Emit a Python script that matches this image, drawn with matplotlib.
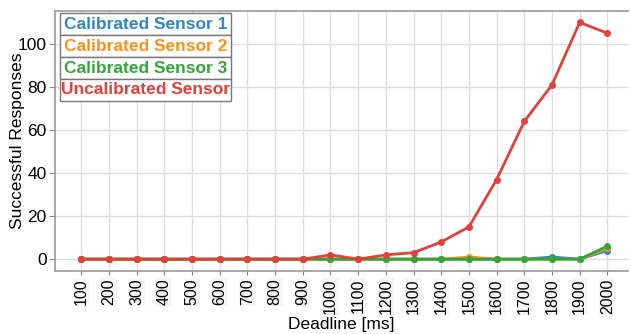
import matplotlib
matplotlib.use("Agg")
import matplotlib.pyplot as plt
import numpy as np

plt.rcParams['font.family'] = ['Liberation Sans', 'DejaVu Sans']

# deadlines in ms
deadlines = [100, 200, 300, 400, 500, 600, 700, 800, 900, 1000,
             1100, 1200, 1300, 1400, 1500, 1600, 1700, 1800, 1900, 2000]

# successful responses per deadline
calibrated_1 = [0, 0, 0, 0, 0, 0, 0, 0, 0, 0, 0, 0, 0, 0, 0, 0, 0, 1, 0, 4]
calibrated_2 = [0, 0, 0, 0, 0, 0, 0, 0, 0, 0, 0, 0, 0, 0, 1, 0, 0, 0, 0, 5]
calibrated_3 = [0, 0, 0, 0, 0, 0, 0, 0, 0, 0, 0, 0, 0, 0, 0, 0, 0, 0, 0, 6]
uncalibrated = [0, 0, 0, 0, 0, 0, 0, 0, 0, 2, 0, 2, 3, 8, 15, 37, 64, 81, 110, 105]

labels = ["Calibrated Sensor 1", "Calibrated Sensor 2",
          "Calibrated Sensor 3", "Uncalibrated Sensor"]
colors = ["#2f86c0", "#f8921f", "#33a53a", "#e0413a"]
series = [calibrated_1, calibrated_2, calibrated_3, uncalibrated]

fig = plt.figure(figsize=(6.3, 3.34), dpi=100)
ax = fig.add_axes([0.0873, 0.1886, 0.9097, 0.7784])

x = np.arange(len(deadlines))
for vals, col in zip(series, colors):
    ax.plot(x, vals, color=col, linewidth=2, marker='o', markersize=4)

ax.set_xlim(-0.95, 19.75)
ax.set_ylim(-5.5, 115.3)
ax.set_yticks([0, 20, 40, 60, 80, 100])
ax.set_xticks(x)
ax.set_xticklabels([str(d) for d in deadlines], rotation=90, fontsize=11.5,
                   bbox=dict(facecolor='#f6f6f6', edgecolor='none', pad=0.5))
ax.tick_params(axis='y', labelsize=12.5, colors='#888888', labelcolor='black',
               length=4, pad=2)
ax.tick_params(axis='x', colors='#888888', labelcolor='black', length=3, pad=2.5)
ax.grid(True, color='#dddddd', linewidth=1)
ax.set_axisbelow(True)
for s in ax.spines.values():
    s.set_color('#999999')
    s.set_linewidth(1.2)
ax.spines['right'].set_visible(False)

ax.set_xlabel("Deadline [ms]", fontsize=12.5, va='center')
ax.set_ylabel("Successful Responses", fontsize=12.5, va='center')
ax.xaxis.set_label_coords(0.5, -0.205)
ax.yaxis.set_label_coords(-0.066, 0.5)

# legend drawn as a one-column table of coloured labels
tbl = ax.table(cellText=[[l] for l in labels], cellLoc='center',
               bbox=[0.009, 0.654, 0.298, 0.338])
tbl.auto_set_font_size(False)
for i, col in enumerate(colors):
    cell = tbl[i, 0]
    cell.set_edgecolor('#777777')
    cell.set_facecolor('white')
    cell.get_text().set_color(col)
    cell.get_text().set_fontweight('bold')
    cell.get_text().set_fontsize(12.5)
tbl.set_zorder(5)

fig.savefig("out.png", dpi=100)
